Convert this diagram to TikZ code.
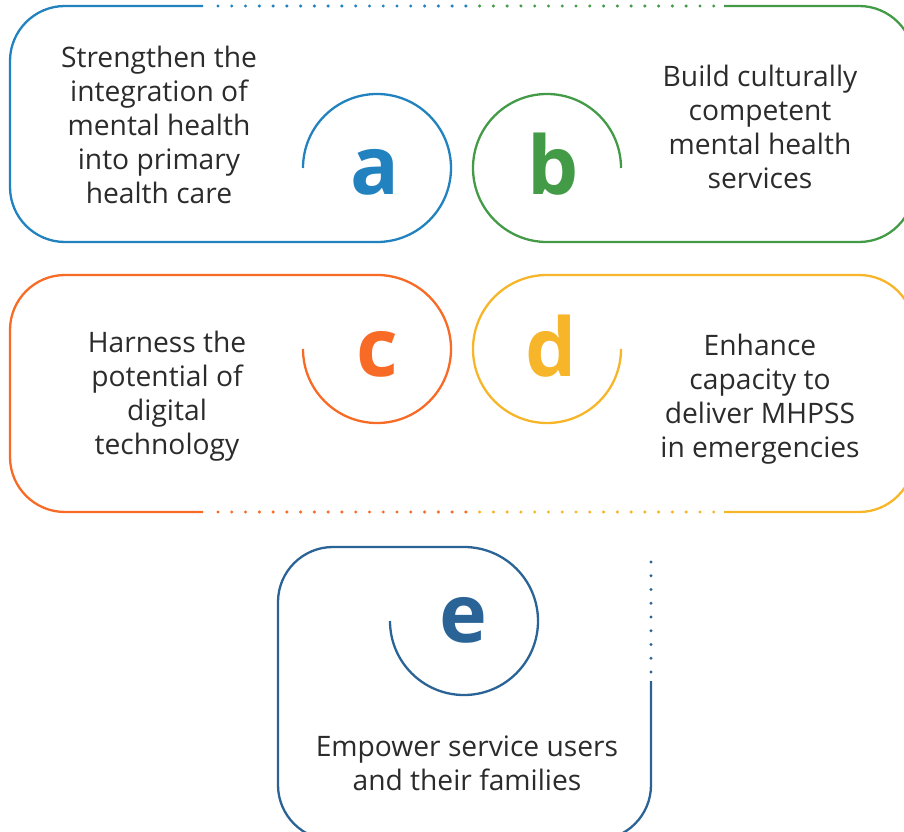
\documentclass[tikz,border=0pt]{standalone}
\usepackage{fontspec}
\setmainfont{Open Sans}
\definecolor{ablue}{HTML}{2282BF}
\definecolor{bgreen}{HTML}{449B47}
\definecolor{corange}{HTML}{F86B26}
\definecolor{dyellow}{HTML}{F7B52A}
\definecolor{eblue}{HTML}{2A6496}
\definecolor{inkgrey}{HTML}{2B2B2B}
\begin{document}
\begin{tikzpicture}[x=1pt,y=1pt,
    ring/.style={line width=2.3pt},
    goaltext/.style={align=center,text=inkgrey,font=\fontsize{28.2}{34}\selectfont},
    badge/.style={anchor=base,font=\fontsize{81}{81}\selectfont\bfseries}]
                        \useasboundingbox (0,0) rectangle (904,831);
                        % box a
                        \draw[ring,ablue] (203,825) -- (65,825) arc[start angle=90,end angle=180,radius=55]
                            -- (10,644) arc[start angle=180,end angle=270,radius=55]
                            -- (377,589) arc[start angle=-90,end angle=180,radius=74];
                        % box b
                        \draw[ring,bgreen] (724,825) -- (859,825) arc[start angle=90,end angle=0,radius=55]
                            -- (914,644) arc[start angle=0,end angle=-90,radius=55]
                            -- (547,589) arc[start angle=270,end angle=0,radius=74];
                        % box c
                        \draw[ring,corange] (203,319) -- (65,319) arc[start angle=270,end angle=180,radius=55]
                            -- (10,501) arc[start angle=180,end angle=90,radius=55]
                            -- (377,556) arc[start angle=90,end angle=-180,radius=74];
                        % box d
                        \draw[ring,dyellow] (724,319) -- (859,319) arc[start angle=-90,end angle=0,radius=55]
                            -- (914,501) arc[start angle=0,end angle=90,radius=55]
                            -- (547,556) arc[start angle=90,end angle=360,radius=74];
                        % box e
                        \draw[ring,eblue] (651,150) -- (651,46) arc[start angle=0,end angle=-90,radius=55]
                            -- (333,-9) arc[start angle=270,end angle=180,radius=55]
                            -- (278,229) arc[start angle=180,end angle=90,radius=55]
                            -- (464,284) arc[start angle=90,end angle=-180,radius=74];
                        % dotted joins
                        \foreach \k in {0,...,36} {
                            \ifnum\k<19
                                \fill[ablue] (218+13.77*\k,825) circle (1.7);
                                \fill[corange] (218+13.77*\k,319) circle (1.7);
                            \else
                                \fill[bgreen] (218+13.77*\k,825) circle (1.7);
                                \fill[dyellow] (218+13.77*\k,319) circle (1.7);
                            \fi
                        }
                        \foreach \k in {0,...,8}
                            \fill[eblue] (651,269-13.75*\k) circle (1.7);
                        % letters
                        \node[badge,text=ablue] (la) at (375,636) {a};
                        \node[badge,text=bgreen] (lb) at (553,636) {b};
                        \node[badge,text=corange] (lc) at (377,454) {c};
                        \node[badge,text=dyellow] (ld) at (551,454) {d};
                        \node[badge,text=eblue] (le) at (463,189) {e};
                        % texts
                        \node[goaltext] (ta) at (159,706) {Strengthen the\\integration of\\mental health\\into primary\\health care};
                        \node[goaltext] (tb) at (760,704) {Build culturally\\competent\\mental health\\services};
                        \node[goaltext] (tc) at (167,435) {Harness the\\potential of\\digital\\technology};
                        \node[goaltext] (td) at (760,432) {Enhance\\capacity to\\deliver MHPSS\\in emergencies};
                        \node[goaltext] (te) at (467,68) {Empower service users\\and their families};
                    \end{tikzpicture}
\end{document}
